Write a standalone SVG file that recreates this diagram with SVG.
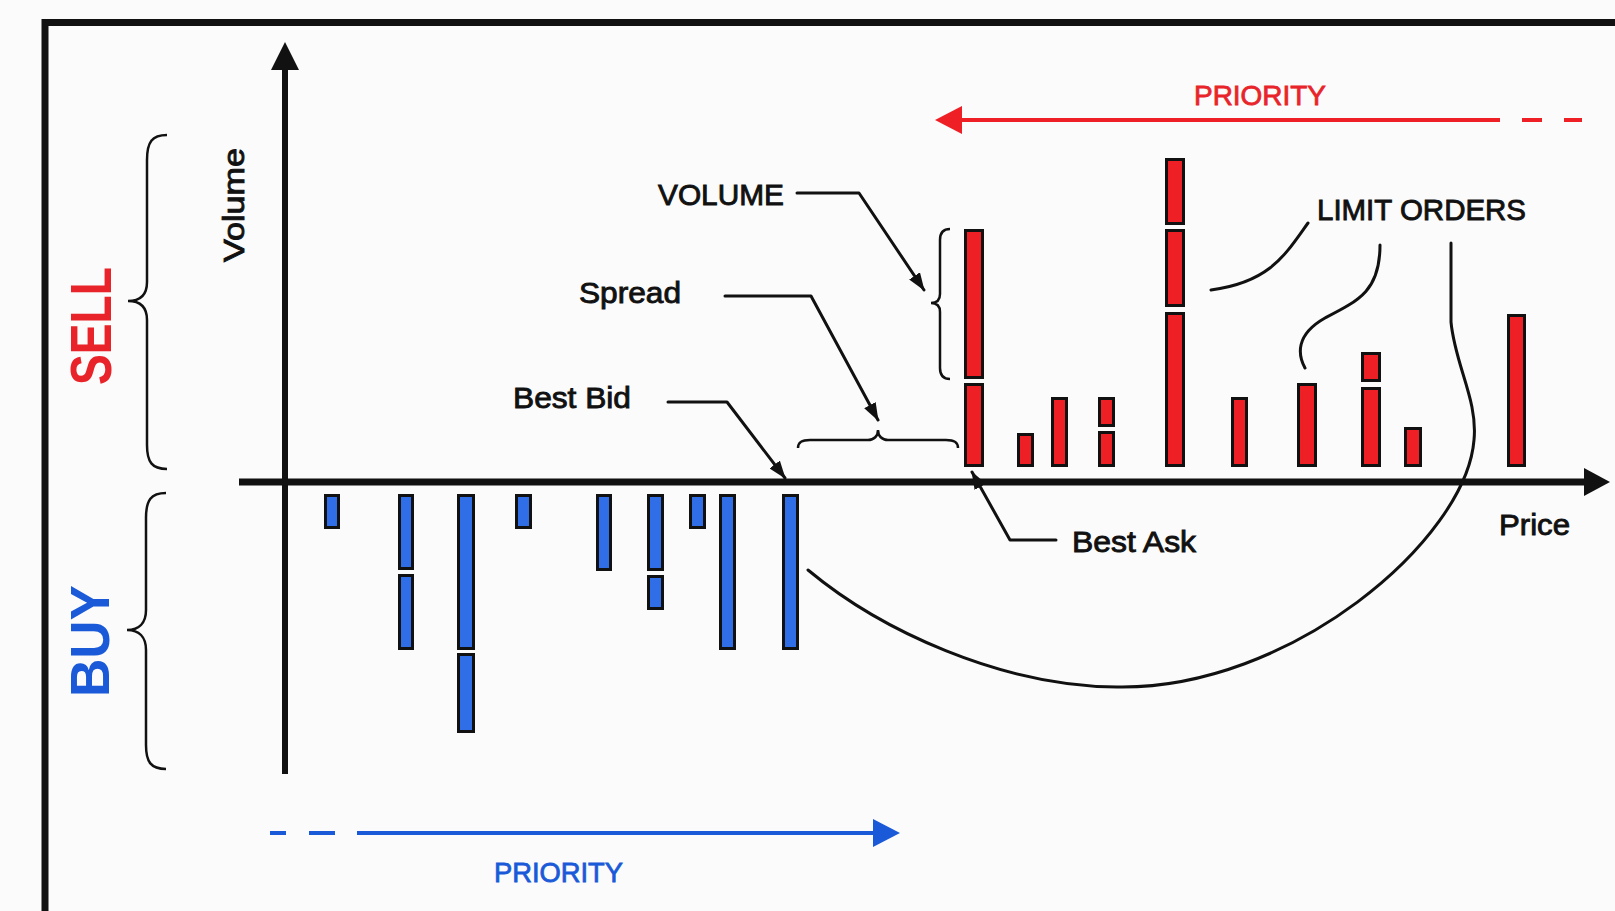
<svg xmlns="http://www.w3.org/2000/svg" width="1615" height="911" viewBox="0 0 1615 911">
<defs>
<style>
.lbl{font-family:"Liberation Sans",Arial,sans-serif;font-size:30px;fill:#111;stroke:#111;stroke-width:0.9}
.side{font-family:"Liberation Sans",Arial,sans-serif;font-weight:bold}
.pr{font-family:"Liberation Sans",Arial,sans-serif;font-size:28px;stroke-width:0.8}
.ask rect{fill:#ee1f25;stroke:#111;stroke-width:3}
.bid rect{fill:#2f6ee6;stroke:#111;stroke-width:3}
.ln{fill:none;stroke:#111;stroke-width:3;stroke-linejoin:round;stroke-linecap:round}
.br{fill:none;stroke:#111;stroke-width:2.5}
</style>
<marker id="ah" viewBox="0 0 18 13" refX="17" refY="6.5" markerWidth="18" markerHeight="13" markerUnits="userSpaceOnUse" orient="auto">
<path d="M0,0 L18,6.5 L0,13 z" fill="#111"/>
</marker>
</defs>
<rect x="0" y="0" width="1615" height="911" fill="#fbfbfb"/>
<rect id="frame" x="45" y="22.5" width="1700" height="1000" fill="none" stroke="#111" stroke-width="7"/>

<g id="axes">
<line x1="285" y1="774" x2="285" y2="66" stroke="#111" stroke-width="6"/>
<polygon points="285,42 271,70 299,70" fill="#111"/>
<line x1="239" y1="482" x2="1588" y2="482" stroke="#111" stroke-width="7"/>
<polygon points="1610,482 1584,468 1584,496" fill="#111"/>
</g>

<g id="asks" class="ask">
<rect x="965.5" y="230.5" width="17" height="147"/>
<rect x="965.5" y="384.5" width="17" height="81"/>
<rect x="1018.5" y="434.5" width="14" height="31"/>
<rect x="1052.5" y="398.5" width="14" height="67"/>
<rect x="1099.5" y="398.5" width="14" height="27"/>
<rect x="1099.5" y="432.5" width="14" height="33"/>
<rect x="1166.5" y="159.5" width="17" height="64"/>
<rect x="1166.5" y="230.5" width="17" height="75"/>
<rect x="1166.5" y="313.5" width="17" height="152"/>
<rect x="1232.5" y="398.5" width="14" height="67"/>
<rect x="1298.5" y="384.5" width="17" height="81"/>
<rect x="1362.5" y="353.5" width="17" height="27"/>
<rect x="1362.5" y="388.5" width="17" height="77"/>
<rect x="1405.5" y="428.5" width="15" height="37"/>
<rect x="1508.5" y="315.5" width="16" height="150"/>
</g>

<g id="bids" class="bid">
<rect x="325.5" y="495.5" width="13" height="32"/>
<rect x="399.5" y="495.5" width="13" height="73"/>
<rect x="399.5" y="575.5" width="13" height="73"/>
<rect x="458.5" y="495.5" width="15" height="153"/>
<rect x="458.5" y="654.5" width="15" height="77"/>
<rect x="516.5" y="495.5" width="14" height="32"/>
<rect x="597.5" y="495.5" width="13" height="74"/>
<rect x="648.5" y="495.5" width="14" height="74"/>
<rect x="648.5" y="576.5" width="14" height="32"/>
<rect x="690.5" y="495.5" width="14" height="32"/>
<rect x="720.5" y="495.5" width="14" height="153"/>
<rect x="783.5" y="495.5" width="14" height="153"/>
</g>

<g id="braces">
<path class="br" d="M167,135 C152,135 147,142 147,160 L147,282 C147,295 140,301 128,301 C140,301 147,307 147,320 L147,445 C147,462 152,469 167,469"/>
<path class="br" d="M166,493 C151,493 146,500 146,518 L146,610 C146,623 139,630 127,630 C139,630 146,637 146,650 L146,745 C146,762 151,769 166,769"/>
<path class="br" d="M950,229 C943,229 940,233 940,240 L940,294 C940,300 937,303 931,303 C937,303 940,306 940,312 L940,368 C940,375 943,379 950,379"/>
<path class="br" d="M798,448 C798,442 802,440 810,440 L868,440 C874,440 878,436 878,430 C878,436 882,440 888,440 L946,440 C954,440 958,442 958,448"/>
</g>

<g id="connectors">
<path class="ln" d="M797,193 L859,193 L924,290" marker-end="url(#ah)"/>
<path class="ln" d="M725,296 L811,296 L878,420" marker-end="url(#ah)"/>
<path class="ln" d="M668,402 L727,402 L785,478" marker-end="url(#ah)"/>
<path class="ln" d="M1056,540 L1010,540 L972,472" marker-end="url(#ah)"/>
<path class="ln" d="M1308,223 C1285,255 1270,282 1211,290"/>
<path class="ln" d="M1380,245 C1380,290 1360,300 1325,318 C1295,335 1298,355 1305,368"/>
<path class="ln" d="M1451,243 L1451,322 C1455,365 1478,400 1474,440 C1466,540 1290,690 1117,687 C1000,686 880,630 808,570"/>
</g>

<g id="sell-priority">
<line x1="1500" y1="120" x2="958" y2="120" stroke="#ee1f25" stroke-width="4"/>
<polygon points="935,120 962,106 962,134" fill="#ee1f25"/>
<line x1="1522" y1="120" x2="1542" y2="120" stroke="#ee1f25" stroke-width="4"/>
<line x1="1564" y1="120" x2="1582" y2="120" stroke="#ee1f25" stroke-width="4"/>
<text class="pr" x="1194" y="105" fill="#e8242a" stroke="#e8242a" textLength="132" lengthAdjust="spacingAndGlyphs">PRIORITY</text>
</g>

<g id="buy-priority">
<line x1="270" y1="833" x2="286" y2="833" stroke="#1a5ad8" stroke-width="4"/>
<line x1="309" y1="833" x2="335" y2="833" stroke="#1a5ad8" stroke-width="4"/>
<line x1="357" y1="833" x2="876" y2="833" stroke="#1a5ad8" stroke-width="4"/>
<polygon points="900,833 873,819 873,847" fill="#1a5ad8"/>
<text class="pr" x="494" y="882" fill="#1a5ad8" stroke="#1a5ad8" textLength="129" lengthAdjust="spacingAndGlyphs">PRIORITY</text>
</g>

<g id="labels">
<text class="lbl" transform="translate(244,262) rotate(-90)" textLength="114" lengthAdjust="spacingAndGlyphs">Volume</text>
<text class="lbl" x="658" y="205" textLength="126" lengthAdjust="spacingAndGlyphs">VOLUME</text>
<text class="lbl" x="579" y="303" textLength="102" lengthAdjust="spacingAndGlyphs">Spread</text>
<text class="lbl" x="513" y="408" textLength="118" lengthAdjust="spacingAndGlyphs">Best Bid</text>
<text class="lbl" x="1072" y="552" textLength="124" lengthAdjust="spacingAndGlyphs">Best Ask</text>
<text class="lbl" x="1499" y="535" textLength="71" lengthAdjust="spacingAndGlyphs">Price</text>
<text class="lbl" x="1317" y="220" font-size="29" textLength="209" lengthAdjust="spacingAndGlyphs">LIMIT ORDERS</text>
</g>

<g id="sides">
<text class="side" transform="translate(111,385) rotate(-90)" font-size="58" fill="#e8242a" textLength="118" lengthAdjust="spacingAndGlyphs">SELL</text>
<text class="side" transform="translate(109,697) rotate(-90)" font-size="56" fill="#1a5ad8" textLength="112" lengthAdjust="spacingAndGlyphs">BUY</text>
</g>
</svg>
